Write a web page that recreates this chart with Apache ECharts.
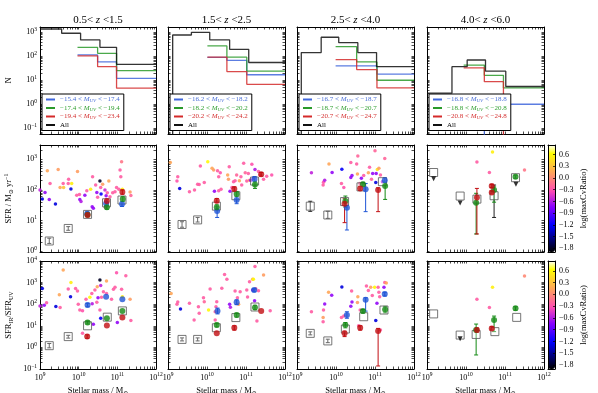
<!DOCTYPE html>
<html>
<head>
<meta charset="utf-8">
<script src="https://cdn.jsdelivr.net/npm/echarts@6.0.0/dist/echarts.min.js"></script>
<style>
  html, body { margin: 0; padding: 0; background: #fff; }
  #chart { width: 598px; height: 393px; }
</style>
</head>
<body>
<div id="chart"></div>
<script>
// redshift bins, one per column
const zBins = [['0.5', '1.5'], ['1.5', '2.5'], ['2.5', '4.0'], ['4.0', '6.0']]
// M_UV limits of the three sub-samples (blue, green, red) in each column
const muvBins = [
  [['−15.4', '−17.4'], ['−17.4', '−19.4'], ['−19.4', '−23.4']],
  [['−16.2', '−18.2'], ['−18.2', '−20.2'], ['−20.2', '−24.2']],
  [['−16.7', '−18.7'], ['−18.7', '−20.7'], ['−20.7', '−24.7']],
  [['−16.8', '−18.8'], ['−18.8', '−20.8'], ['−20.8', '−24.8']]
]

// top row: step histograms, edges in log stellar mass, 0 = empty bin
const allEdges = [
  [9.0, 9.56, 10.05, 10.55, 10.98, 12.0],
  [9.0, 9.12, 9.60, 10.07, 10.58, 11.07, 12.0],
  [9.0, 9.11, 9.62, 10.07, 10.56, 11.04, 12.0],
  [9.0, 9.64, 10.03, 10.50, 11.02, 12.0]
]
const allCounts = [
  [1370, 910, 480, 237, 46],
  [0, 770, 1000, 480, 195, 55],
  [0, 142, 620, 370, 142, 37],
  [2.9, 37, 70, 24, 5.5]
]
const subEdges = [[9.97, 10.49, 10.98, 12], [10.01, 10.51, 11.02, 12], [9.99, 10.53, 11.05, 12], [9.94, 10.47, 10.96, 12]]
const blueCounts = [[114, 58, 12], [90, 68, 17], [40, 40, 18], [0, 1, 1]]
const greenCounts = [[237, 133, 25], [270, 92, 24], [250, 58, 10], [43, 16, 4.8]]
const redCounts = [[103, 37, 4.7], [92, 23, 6.8], [73, 28, 4.8], [33, 8.7, 0]]

// middle row, single galaxies: [log M, log SFR, log(maxCvRatio)]
const sfrDots = [
  [[9.0, 2.0, -0.55], [9.06, 1.70, -1.3], [9.13, 1.92, -0.7], [9.19, 2.63, 0.15], [9.26, 2.21, -0.25], [9.24, 1.69, -0.7],
    [9.40, 1.54, -1.3], [9.47, 2.67, 0.1], [9.52, 2.08, 0.15], [9.60, 2.21, -0.25], [9.61, 2.08, 0.3], [9.73, 2.21, -0.25],
    [9.74, 2.35, -0.25], [9.80, 2.03, -1.3], [9.82, 2.21, 0.55], [9.95, 1.83, -0.25], [9.97, 2.60, 0.1], [10.02, 1.85, -0.25],
    [10.03, 1.69, -0.7], [10.06, 1.62, -0.6], [10.16, 1.83, -0.7], [10.21, 1.97, -0.25], [10.31, 2.02, 0.55], [10.35, 1.45, -0.7],
    [10.38, 1.40, -0.7], [10.36, 2.43, -0.25], [10.44, 2.16, -0.25], [10.47, 1.92, -0.7], [10.49, 1.76, -0.25], [10.55, 2.29, -1.8],
    [10.58, 1.87, -1.2], [10.57, 2.08, -0.25], [10.62, 2.19, 0.1], [10.68, 2.0, -0.5], [10.71, 1.81, -0.7], [10.74, 1.91, -0.25],
    [10.78, 2.29, 0.15], [10.81, 1.78, -0.25], [10.88, 1.91, -0.25], [10.94, 1.94, -0.25], [10.98, 2.08, -0.25], [11.04, 2.02, -0.25],
    [11.09, 2.43, -0.25], [11.07, 2.65, -0.25], [11.11, 2.92, -0.1], [11.13, 2.02, 0.55], [11.33, 1.93, 0.1], [11.35, 1.82, -0.2],
    [10.69, 1.43, -0.25]],
  [[9.06, 2.90, 0.15], [9.23, 2.29, -0.3], [9.25, 2.43, -0.25], [9.30, 2.05, -1.3], [9.55, 1.94, -0.25], [9.68, 2.0, -0.25],
    [9.76, 2.19, -0.25], [9.80, 2.18, -0.25], [9.83, 2.78, -0.25], [9.93, 2.24, -0.25], [10.02, 2.92, 0.6], [10.13, 2.71, 0.15],
    [10.17, 2.65, 0.1], [10.19, 1.96, -0.7], [10.27, 2.63, -0.25], [10.30, 2.43, -0.25], [10.30, 1.97, -0.25], [10.34, 2.56, -0.3],
    [10.36, 2.02, -0.25], [10.53, 2.49, 0.15], [10.55, 2.35, 0.1], [10.57, 2.76, -0.25], [10.59, 1.96, -0.7], [10.64, 2.08, -0.25],
    [10.68, 2.27, -0.25], [10.72, 2.30, -0.25], [10.76, 2.49, -0.2], [10.83, 2.30, 0.15], [10.87, 2.43, -0.25], [10.89, 2.16, -0.25],
    [10.94, 2.87, -0.25], [10.98, 2.56, -0.2], [11.02, 2.29, -0.25], [11.06, 2.54, -0.25], [11.09, 2.32, 0.1], [11.12, 2.32, -0.7],
    [11.15, 2.84, -0.3], [11.19, 2.38, -0.7], [11.23, 2.67, -0.6], [11.32, 2.60, -0.25], [11.36, 2.49, -0.2], [11.45, 2.35, -0.25],
    [11.53, 2.45, -0.25], [11.66, 2.49, -0.3]],
  [[9.37, 2.56, -0.55], [9.67, 2.16, -0.25], [9.68, 2.25, -0.3], [9.71, 2.32, -0.6], [9.82, 2.85, 0.15], [9.90, 2.57, -0.7],
    [10.15, 2.68, -1.2], [10.14, 2.21, -0.25], [10.20, 2.08, -0.3], [10.38, 2.90, -0.25], [10.38, 2.41, -0.7], [10.41, 2.47, -0.7],
    [10.53, 2.85, -0.25], [10.56, 3.11, -0.2], [10.55, 2.52, 0.15], [10.61, 2.21, -0.25], [10.65, 2.38, -0.7], [10.71, 2.47, -0.25],
    [10.83, 2.56, 0.15], [10.86, 2.74, -0.25], [10.91, 2.35, -0.25], [10.94, 2.54, -0.7], [11.0, 3.28, -0.2], [11.02, 2.24, -1.3],
    [11.03, 2.54, -0.7], [11.06, 2.67, 0.5], [11.10, 2.71, 0.1], [11.19, 2.27, -0.6], [11.25, 3.03, -0.2], [11.14, 2.49, -0.25]],
  [[10.28, 2.91, -0.25], [10.60, 2.57, -0.25], [10.68, 3.24, 0.55], [11.50, 2.65, -0.1]]
]
// middle row, binned values: [log M, log SFR, log low, log high]
const sfrAll = [
  [[9.24, 0.33, 0.25, 0.42], [9.73, 0.74, 0.68, 0.80], [10.23, 1.20], [10.72, 1.58], [11.12, 1.67]],
  [[9.36, 0.87, 0.78, 0.96], [9.76, 1.02, 0.95, 1.10], [10.24, 1.47], [10.74, 1.81], [11.22, 2.29]],
  [[9.34, 1.47, 1.30, 1.63], [9.79, 1.18, 1.07, 1.30], [10.22, 1.62], [10.64, 2.10], [11.19, 2.27]],
  [[9.17, 2.57], [9.85, 1.80], [10.28, 1.70], [10.72, 1.81, 1.10, 2.16], [11.27, 2.40]]
]
const sfrRed = [
  [[10.23, 1.18, 1.12, 1.24], [10.73, 1.64, 1.56, 1.70], [11.13, 1.93, 1.86, 2.0]],
  [[10.25, 1.65, 1.58, 1.72], [10.70, 2.03, 1.96, 2.10], [11.39, 2.51, 2.45, 2.57]],
  [[10.22, 1.55, 0.93, 1.72], [10.62, 2.05, 1.98, 2.12], [11.08, 2.0, 1.29, 2.07]],
  [[10.28, 1.75, 0.56, 2.05], [10.66, 2.13, 2.08, 2.18], [10.66, 1.92, 1.87, 1.97]]
]
const sfrGreen = [
  [[10.23, 1.19, 1.14, 1.25], [10.73, 1.43, 1.37, 1.50], [11.14, 1.70, 1.62, 1.78]],
  [[10.25, 1.43, 1.36, 1.52], [10.76, 1.87, 1.78, 1.95], [11.23, 2.18, 2.05, 2.28]],
  [[10.24, 1.64, 1.44, 1.80], [10.69, 2.19, 2.10, 2.25], [11.26, 2.13, 1.69, 2.25]],
  [[10.26, 1.58, 0.56, 1.89], [10.72, 2.0, 1.60, 2.10], [11.27, 2.43, 2.38, 2.48]]
]
const sfrBlue = [
  [[10.22, 1.22, 1.16, 1.30], [10.71, 1.56, 1.48, 1.64], [11.12, 1.54, 1.46, 1.62]],
  [[10.26, 1.31, 1.10, 1.45], [10.76, 1.67, 1.55, 1.78], [11.22, 2.36, 2.28, 2.44]],
  [[10.28, 1.42, 0.69, 1.50], [10.76, 2.02, 1.29, 2.21], [11.25, 2.32, 2.25, 2.40]],
  []
]
const sfrLimits = [[], [], [], [[9.17, 2.37], [9.85, 1.57], [11.28, 2.19]]]

// bottom row, single galaxies: [log M, log SFR_IR/SFR_UV, log(maxCvRatio)]
const irxDots = [
  [[9.0, 1.92, -0.55], [9.06, 2.73, -1.3], [9.11, 1.95, -0.7], [9.17, 2.07, -0.25], [9.41, 1.89, -1.3], [9.52, 1.85, -0.25],
    [9.60, 3.58, 0.15], [9.5, 2.44, 0.15], [9.79, 2.35, -1.3], [9.80, 3.01, 0.55], [9.73, 2.70, -0.25], [9.92, 2.73, -0.25],
    [9.97, 2.61, -0.25], [9.99, 2.0, -0.25], [10.03, 1.73, -0.25], [10.10, 1.70, -0.3], [10.29, 2.32, 0.6], [10.19, 2.23, -0.25],
    [10.34, 2.50, -0.25], [10.38, 1.07, -0.7], [10.42, 2.66, -0.25], [10.48, 2.81, 0.15], [10.47, 2.09, -0.25], [10.55, 3.12, -1.8],
    [10.57, 2.86, -0.55], [10.59, 2.32, -0.25], [10.64, 2.58, -0.25], [10.72, 3.07, 0.15], [10.72, 2.50, -0.25], [10.85, 2.23, -0.25],
    [10.90, 2.69, -0.25], [10.94, 2.78, -0.25], [10.98, 3.46, -0.3], [11.0, 1.15, -0.7], [11.11, 2.69, -0.25], [11.13, 2.35, 0.55],
    [11.22, 3.32, -0.25], [11.33, 2.23, 0.1], [11.35, 1.24, -0.25], [10.55, 1.73, -0.25], [10.10, 0.65, -0.25], [10.57, 1.35, -1.2],
    [10.35, 2.02, -0.6], [10.5, 2.30, -0.7]],
  [[9.08, 2.50, 0.15], [9.23, 2.0, -0.25], [9.25, 2.10, -0.25], [9.32, 1.78, -1.3], [9.55, 2.04, -0.25], [9.67, 1.27, -0.25],
    [9.78, 1.88, -0.25], [9.80, 1.58, -0.25], [9.91, 2.30, -0.25], [9.93, 2.11, -0.2], [10.04, 1.73, 0.6], [10.08, 2.70, -0.25],
    [10.23, 1.88, -0.25], [10.21, 1.65, -0.2], [10.25, 2.11, -0.25], [10.38, 2.74, -0.25], [10.45, 3.37, -0.25], [10.51, 3.15, -0.25],
    [10.58, 2.0, -0.7], [10.60, 1.86, -0.6], [10.72, 2.61, -0.25], [10.78, 2.30, -0.25], [10.81, 2.0, 0.15], [10.85, 2.58, -0.25],
    [11.02, 2.66, -0.25], [11.04, 2.33, -0.25], [11.09, 3.04, -0.25], [11.17, 3.15, 0.15], [11.19, 3.15, 0.6], [11.17, 2.66, -0.7],
    [11.23, 3.74, -0.25], [11.25, 2.72, -0.25], [11.28, 1.22, -0.25], [11.32, 2.62, -0.25], [11.45, 3.35, 0.1], [11.62, 1.70, -0.25],
    [11.22, 2.16, -0.7], [10.21, 1.27, -0.25]],
  [[9.37, 1.65, -0.25], [9.67, 1.38, 0.1], [9.67, 1.19, -0.25], [9.68, 1.73, -0.25], [9.71, 2.01, -0.7], [9.81, 2.55, 0.15],
    [9.89, 2.42, -0.7], [10.15, 2.80, -1.3], [10.14, 1.38, -0.25], [10.20, 1.45, -0.25], [10.40, 2.61, -0.25], [10.38, 1.90, -0.7],
    [10.41, 2.10, -0.7], [10.56, 2.35, 0.15], [10.55, 2.08, 0.1], [10.58, 1.0, -0.25], [10.62, 1.73, -0.25], [10.78, 2.84, -0.25],
    [10.83, 2.63, -0.25], [10.89, 2.78, 0.1], [10.99, 2.78, 0.6], [11.02, 1.24, -1.3], [11.05, 2.04, -0.7], [11.08, 2.78, -0.25],
    [11.10, 2.55, -0.25], [11.12, 2.35, -0.25], [11.14, 0.81, -0.25], [11.25, 3.01, -0.25], [11.29, 2.98, 0.15], [11.23, 2.78, -0.7],
    [10.93, 2.40, -0.25]],
  [[10.28, 2.23, -0.25], [10.60, 1.85, -0.25], [10.68, 2.78, 0.55], [11.50, 3.30, 0.0]]
]
// bottom row, binned values: [log M, log ratio, log low, log high]
const irxAll = [
  [[9.24, 0.08, -0.02, 0.18], [9.73, 0.50, 0.43, 0.56], [10.23, 1.0], [10.74, 1.40], [11.13, 1.69]],
  [[9.36, 0.37, 0.30, 0.44], [9.76, 0.37, 0.30, 0.44], [10.24, 0.91], [10.74, 1.38], [11.23, 1.87]],
  [[9.34, 0.65, 0.58, 0.72], [9.79, 0.30, 0.22, 0.38], [10.24, 0.85], [10.71, 1.42], [11.23, 1.73]],
  [[9.17, 1.55], [9.85, 0.57], [10.26, 0.60], [10.74, 0.73], [11.30, 1.39]]
]
const irxRed = [
  [[10.22, 0.50, 0.42, 0.58], [10.73, 1.01], [11.13, 1.38]],
  [[10.25, 0.65], [10.70, 0.91, 0.80, 1.0], [11.39, 1.69]],
  [[10.22, 0.65, 0.50, 0.75], [10.62, 0.91, 0.80, 1.0], [11.08, 0.76, -0.86, 0.88]],
  [[10.28, 0.80, 0.70, 0.90], [10.66, 0.88, 0.80, 0.96]]
]
const irxGreen = [
  [[10.23, 1.15, 1.08, 1.22], [10.73, 1.35], [11.13, 1.69]],
  [[10.25, 1.04, 0.95, 1.12], [10.76, 1.50, 1.40, 1.58], [11.23, 1.85, 1.75, 1.95]],
  [[10.24, 1.04, 0.90, 1.15], [10.69, 1.68, 1.58, 1.75], [11.26, 1.76, 1.60, 1.90]],
  [[10.26, 0.80, -0.35, 1.08], [10.72, 1.27, 0.73, 1.45], [11.27, 1.81, 1.72, 1.88]]
]
const irxBlue = [
  [[10.23, 1.96, 1.88, 2.04], [10.71, 2.35], [11.13, 2.23]],
  [[10.27, 1.69, 1.55, 1.82], [10.76, 2.09, 1.98, 2.20], [11.21, 2.66, 2.58, 2.72]],
  [[10.28, 1.50, 1.35, 1.65], [10.76, 2.21, 1.68, 2.30], [11.25, 2.47, 2.38, 2.55]],
  []
]
const irxLimits = [[], [], [], [[9.85, 0.40]]]

const cbTicks = [-1.8, -1.5, -1.2, -0.9, -0.6, -0.3, 0, 0.3, 0.6]
const cbRange = [-1.9, 0.85]

const FONT = '"Liberation Serif", "DejaVu Serif", serif'
const p10 = v => Math.pow(10, v)
const colX = [40, 168, 297, 427]
const colW = [116, 117, 117, 117]
const rowY = [27, 145, 261]
const rowH = [107, 107, 108]
const yLog = [[-1.24, 3.22], [-0.03, 3.47], [-1, 4]]
const yPow = [[-1, 0, 1, 2, 3], [0, 1, 2, 3], [-1, 0, 1, 2, 3, 4]]
const yNames = ['{t|N}', '{t|SFR / M}{s|⊙}{t| yr}{p|−1}', '{t|SFR}{s|IR}{t|/SFR}{s|UV}']
const HIST = { b: '#3f66dc', g: '#2a9a2a', r: '#d42a2a', k: '#111' }
const TXT = { b: '#4a6fd8', g: '#2f9f2f', r: '#d43030', k: '#000' }
const BIG = { b: '#1f55d6', g: '#138a13', r: '#c20e12' }

// gnuplot2 colour map
function gnuplot2 (x) {
  const cl = v => Math.max(0, Math.min(1, v))
  const r = cl(x / 0.32 - 0.78125)
  const g = cl(2 * x - 0.84)
  const b = cl(x < 0.25 ? 4 * x : x < 0.92 ? -2 * x + 1.84 : x / 0.08 - 11.5)
  return 'rgb(' + [r, g, b].map(v => Math.round(v * 255)).join(',') + ')'
}
const cmap = []
for (let i = 0; i <= 50; i++) cmap.push(gnuplot2(i / 50))

function logTicks (lo, hi) {
  const out = []
  for (let n = Math.floor(lo); n <= Math.ceil(hi); n++) {
    for (let k = 1; k < 10; k++) {
      const v = k * p10(n)
      if (v >= p10(lo) * 0.999 && v <= p10(hi) * 1.001) out.push(v)
    }
  }
  return out
}

const supRich = {
  b: { fontFamily: FONT, fontSize: 8, lineHeight: 11, color: '#000' },
  p: { fontFamily: FONT, fontSize: 5.5, lineHeight: 6, verticalAlign: 'top', color: '#000' }
}
const powLabel = v => '{b|10}{p|' + String(Math.round(Math.log10(v))).replace('-', '−') + '}'
const nameRich = {
  t: { fontFamily: FONT, fontSize: 8.5, lineHeight: 11, color: '#000' },
  s: { fontFamily: FONT, fontSize: 6, lineHeight: 6, verticalAlign: 'bottom', color: '#000' },
  p: { fontFamily: FONT, fontSize: 6, lineHeight: 6, verticalAlign: 'top', color: '#000' }
}

const grids = []
const xAxes = []
const yAxes = []
const series = []
const dotIdx = [[], []]

function addPanel (r, c) {
  const gi = grids.length
  grids.push({ left: colX[c], top: rowY[r], width: colW[c], height: rowH[r], outerBoundsMode: 'none' })
  const tick = vals => ({ show: true, inside: true, length: 2.5, customValues: vals, lineStyle: { color: '#000', width: 0.7 } })
  const common = {
    type: 'log', logBase: 10, gridIndex: gi, silent: true, splitLine: { show: false },
    axisLine: { show: true, onZero: false, lineStyle: { color: '#000', width: 1 } }
  }
  const xt = logTicks(9, 12)
  const yt = logTicks(yLog[r][0], yLog[r][1])
  const ymin = p10(yLog[r][0])
  const ymax = p10(yLog[r][1])
  xAxes.push({
    ...common, position: 'bottom', min: 1e9, max: 1e12, axisTick: tick(xt),
    axisLabel: r === 2 ? { customValues: [1e9, 1e10, 1e11, 1e12], formatter: powLabel, rich: supRich, margin: 3 } : { show: false },
    name: r === 2 ? '{t|Stellar mass / M}{s|⊙}' : '', nameLocation: 'middle', nameGap: 16,
    nameTextStyle: { rich: nameRich }
  })
  xAxes.push({ ...common, position: 'top', min: 1e9, max: 1e12, axisTick: tick(xt), axisLabel: { show: false } })
  yAxes.push({
    ...common, position: 'left', min: ymin, max: ymax, axisTick: tick(yt),
    axisLabel: c === 0 ? { customValues: yPow[r].map(p10), formatter: powLabel, rich: supRich, margin: 3 } : { show: false },
    name: c === 0 ? yNames[r] : '', nameLocation: 'middle', nameGap: 26, nameRotate: 90,
    nameTextStyle: { rich: nameRich }
  })
  yAxes.push({ ...common, position: 'right', min: ymin, max: ymax, axisTick: tick(yt), axisLabel: { show: false } })
  return gi
}

function stepPts (edges, counts) {
  const pts = []
  counts.forEach((n, i) => {
    const y = n > 0 ? n : 1e-4
    pts.push([p10(edges[i]), y], [p10(edges[i + 1]), y])
  })
  return pts
}

function histSeries (gi, name, pts, key) {
  return {
    type: 'line', name, xAxisIndex: 2 * gi, yAxisIndex: 2 * gi, data: pts, symbol: 'none',
    lineStyle: { color: HIST[key], width: 1.3, opacity: 0.85 }, itemStyle: { color: HIST[key] },
    clip: true, silent: true, z: 2
  }
}

function errSeries (gi, pts, color) {
  return {
    type: 'custom', xAxisIndex: 2 * gi, yAxisIndex: 2 * gi, silent: true, z: 3,
    data: pts.filter(p => p.length > 2).map(p => [p10(p[0]), p10(p[1]), p10(p[2]), p10(p[3])]),
    encode: { x: 0, y: 1 },
    renderItem (params, api) {
      const a = api.coord([api.value(0), api.value(2)])
      const b = api.coord([api.value(0), api.value(3)])
      const st = { stroke: color, lineWidth: 1 }
      return {
        type: 'group',
        children: [
          { type: 'line', shape: { x1: a[0], y1: a[1], x2: b[0], y2: b[1] }, style: st },
          { type: 'line', shape: { x1: a[0] - 2, y1: a[1], x2: a[0] + 2, y2: a[1] }, style: st },
          { type: 'line', shape: { x1: b[0] - 2, y1: b[1], x2: b[0] + 2, y2: b[1] }, style: st }
        ]
      }
    }
  }
}

function pointSeries (gi, pts, style, symbol, size, z) {
  return {
    type: 'scatter', xAxisIndex: 2 * gi, yAxisIndex: 2 * gi, silent: true, z,
    data: pts.map(p => [p10(p[0]), p10(p[1])]), symbol, symbolSize: size, itemStyle: style
  }
}

const nameColor = {}
const legends = []
for (let c = 0; c < 4; c++) {
  const gi = addPanel(0, c)
  const names = muvBins[c].map(m => m[0] + ' < M_UV < ' + m[1])
  const sub = [blueCounts[c], greenCounts[c], redCounts[c]]
  ;['b', 'g', 'r'].forEach((k, i) => {
    nameColor[names[i]] = k
    series.push(histSeries(gi, names[i], stepPts(subEdges[c], sub[i]), k))
  })
  series.push(histSeries(gi, 'All', stepPts(allEdges[c], allCounts[c]), 'k'))
  legends.push(names.concat('All'))
}
nameColor.All = 'k'

const rowSets = [
  { dots: sfrDots, all: sfrAll, red: sfrRed, green: sfrGreen, blue: sfrBlue, lim: sfrLimits },
  { dots: irxDots, all: irxAll, red: irxRed, green: irxGreen, blue: irxBlue, lim: irxLimits }
]
rowSets.forEach((set, k) => {
  for (let c = 0; c < 4; c++) {
    const gi = addPanel(k + 1, c)
    dotIdx[k].push(series.length)
    series.push({
      type: 'scatter', xAxisIndex: 2 * gi, yAxisIndex: 2 * gi, silent: true, z: 2,
      data: set.dots[c].map(p => [p10(p[0]), p10(p[1]), p[2]]), symbolSize: 3.5, itemStyle: { opacity: 0.9 }
    })
    series.push(errSeries(gi, set.all[c], '#222'))
    series.push(errSeries(gi, set.blue[c], BIG.b))
    series.push(errSeries(gi, set.green[c], BIG.g))
    series.push(errSeries(gi, set.red[c], BIG.r))
    series.push(pointSeries(gi, set.all[c], { color: 'rgba(255,255,255,0.4)', borderColor: '#555', borderWidth: 1 }, 'rect', 8, 4))
    series.push(pointSeries(gi, set.blue[c], { color: BIG.b }, 'circle', 6, 5))
    series.push(pointSeries(gi, set.green[c], { color: BIG.g }, 'circle', 6, 5))
    series.push(pointSeries(gi, set.red[c], { color: BIG.r }, 'circle', 6, 5))
    if (set.lim[c].length) {
      series.push({ ...pointSeries(gi, set.lim[c], { color: '#000' }, 'triangle', 5, 5), symbolRotate: 180 })
    }
  }
})

// colour bars
const visualMaps = []
for (let k = 0; k < 2; k++) {
  const r = k + 1
  const gi = grids.length
  grids.push({ left: 548, top: rowY[r], width: 7, height: rowH[r], outerBoundsMode: 'none' })
  const frame = { show: true, onZero: false, lineStyle: { color: '#000', width: 1 } }
  xAxes.push({ type: 'value', gridIndex: gi, position: 'bottom', min: 0, max: 1, z: 6, axisLine: frame, axisTick: { show: false }, axisLabel: { show: false }, splitLine: { show: false } })
  xAxes.push({ type: 'value', gridIndex: gi, position: 'top', min: 0, max: 1, z: 6, axisLine: frame, axisTick: { show: false }, axisLabel: { show: false }, splitLine: { show: false } })
  yAxes.push({ type: 'value', gridIndex: gi, position: 'left', min: cbRange[0], max: cbRange[1], z: 6, axisLine: frame, axisTick: { show: false }, axisLabel: { show: false }, splitLine: { show: false } })
  yAxes.push({
    type: 'value', gridIndex: gi, position: 'right', min: cbRange[0], max: cbRange[1], z: 6, axisLine: frame, splitLine: { show: false },
    axisTick: { show: true, inside: true, length: 2, customValues: cbTicks, lineStyle: { color: '#000', width: 0.7 } },
    axisLabel: {
      customValues: cbTicks, margin: 4, fontFamily: FONT, fontSize: 8, color: '#000',
      formatter: v => (v < 0 ? '−' : '') + Math.abs(v).toFixed(1)
    },
    name: 'log(maxCvRatio)', nameLocation: 'middle', nameRotate: 90, nameGap: 24,
    nameTextStyle: { fontFamily: FONT, fontSize: 8.5, color: '#000' }
  })
  visualMaps.push({
    type: 'continuous', min: cbRange[0], max: cbRange[1], dimension: 2, seriesIndex: dotIdx[k],
    inRange: { color: cmap }, left: 548, top: rowY[r], itemWidth: 7, itemHeight: rowH[r],
    calculable: false, text: ['', ''], padding: 0, orient: 'vertical', z: 4
  })
}

const legendRich = {}
Object.keys(TXT).forEach(k => {
  legendRich[k + 'n'] = { color: TXT[k], fontFamily: FONT, fontSize: 7, lineHeight: 8 }
  legendRich[k + 'i'] = { color: TXT[k], fontFamily: FONT, fontSize: 7, lineHeight: 8, fontStyle: 'italic' }
  legendRich[k + 's'] = { color: TXT[k], fontFamily: FONT, fontSize: 5, lineHeight: 5, verticalAlign: 'bottom', fontStyle: 'italic' }
})
function legendFmt (name) {
  const k = nameColor[name]
  if (name === 'All') return '{kn|All}'
  const [a, b] = name.split(' < M_UV < ')
  return '{' + k + 'n|' + a + ' < }{' + k + 'i|M}{' + k + 's|UV}{' + k + 'n| < ' + b + '}'
}

const titleRich = {
  n: { fontFamily: FONT, fontSize: 11, color: '#000' },
  i: { fontFamily: FONT, fontSize: 11, fontStyle: 'italic', color: '#000' }
}

const chart = echarts.init(document.getElementById('chart'), null, { renderer: 'canvas' })
chart.setOption({
  animation: false,
  backgroundColor: '#fff',
  textStyle: { fontFamily: FONT },
  grid: grids,
  xAxis: xAxes,
  yAxis: yAxes,
  visualMap: visualMaps,
  legend: legends.map((names, c) => ({
    data: names, orient: 'vertical', left: colX[c] + 2, top: 94, padding: [2, 4, 2, 4],
    itemGap: 1, itemWidth: 9, itemHeight: 2, icon: 'rect', selectedMode: false,
    backgroundColor: '#fff', borderColor: '#000', borderWidth: 1, borderRadius: 0,
    formatter: legendFmt, textStyle: { fontFamily: FONT, fontSize: 7, rich: legendRich }
  })),
  graphic: zBins.map((z, c) => ({
    type: 'text', x: colX[c] + colW[c] / 2, y: 20, silent: true,
    style: {
      text: '{n|' + z[0] + '< }{i|z}{n| <' + z[1] + '}', rich: titleRich,
      align: 'center', verticalAlign: 'middle', textAlign: 'center', textVerticalAlign: 'middle'
    }
  })),
  series
})
</script>
</body>
</html>
